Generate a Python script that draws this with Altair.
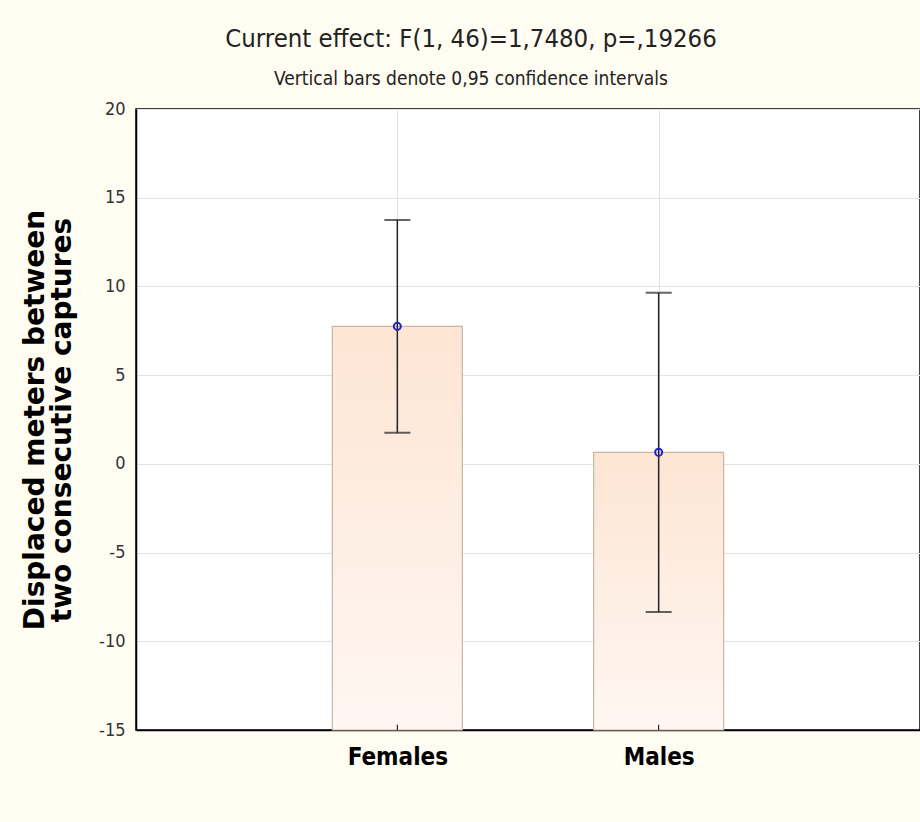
import altair as alt
import pandas as pd

groups = ["Females", "Males"]
means = [7.75, 0.65]
ci_low = [1.75, -8.35]
ci_high = [13.75, 9.65]
y_ticks = [-15, -10, -5, 0, 5, 10, 15, 20]
y_min, y_max = -15, 20

df = pd.DataFrame({"group": groups, "mean": means, "lo": ci_low, "hi": ci_high,
                   "base": [y_min] * len(groups), "tick_top": [y_min + 0.3] * len(groups)})

NARROW = "Liberation Sans Narrow, Arial Narrow, DejaVu Sans Condensed, sans-serif"

x = alt.X("group:N", sort=groups, title=None,
          scale=alt.Scale(type="point", padding=1),
          axis=alt.Axis(grid=True, gridColor="#e3e3e3", ticks=False, labelAngle=0,
                        labelFont=NARROW, labelFontSize=24, labelFontWeight="bold",
                        labelColor="#000", labelPadding=15, domainColor="#000",
                        domainWidth=1.5))
yscale = alt.Scale(domain=[y_min, y_max], nice=False, zero=False)

bars = alt.Chart(df).mark_bar(
    width=130,
    stroke="#c9b6a3", strokeWidth=1.2,
    color=alt.Gradient(gradient="linear", x1=0, x2=0, y1=0, y2=1,
                       stops=[alt.GradientStop(color="#fde5d3", offset=0),
                              alt.GradientStop(color="#fff7f3", offset=1)])
).encode(
    x=x,
    y=alt.Y("mean:Q", scale=yscale,
            title=["Displaced meters between", "two consecutive captures"],
            axis=alt.Axis(values=y_ticks, grid=True, gridColor="#e3e3e3", ticks=False,
                          labelExpr="'' + datum.value",
                          labelFont=NARROW, labelFontSize=18, labelColor="#333",
                          labelPadding=11, domainColor="#000", domainWidth=1.5,
                          titleFont="DejaVu Sans, sans-serif",
                          titleFontSize=28, titleFontWeight="bold", titleColor="#000",
                          titleLineHeight=27, titlePadding=22)),
    y2="base:Q",
)

xticks = alt.Chart(df).mark_rule(color="#000", strokeWidth=1).encode(
    x=alt.X("group:N", sort=groups), y=alt.Y("base:Q", scale=yscale), y2="tick_top:Q")

err = alt.Chart(df).mark_rule(color="#222", strokeWidth=1.5).encode(
    x=alt.X("group:N", sort=groups), y=alt.Y("lo:Q", scale=yscale), y2="hi:Q")

cap_lo = alt.Chart(df).mark_tick(color="#222", size=26, thickness=2, orient="horizontal").encode(
    x=alt.X("group:N", sort=groups), y=alt.Y("lo:Q", scale=yscale))
cap_hi = alt.Chart(df).mark_tick(color="#222", size=26, thickness=2, orient="horizontal").encode(
    x=alt.X("group:N", sort=groups), y=alt.Y("hi:Q", scale=yscale))

pts = alt.Chart(df).mark_point(shape="circle", filled=False, color="#2323c8",
                               size=50, strokeWidth=2, opacity=1).encode(
    x=alt.X("group:N", sort=groups), y=alt.Y("mean:Q", scale=yscale))

chart = alt.layer(bars, xticks, err, cap_lo, cap_hi, pts).properties(
    width=784, height=621,
    padding={"left": 136, "top": 109, "right": 0, "bottom": 92},
    autosize=alt.AutoSizeParams(type="none"),
    background="#fffcf1",
    title=alt.TitleParams(
        text="Current effect: F(1, 46)=1,7480, p=,19266",
        subtitle="Vertical bars denote 0,95 confidence intervals",
        font=NARROW, fontSize=25.5, fontWeight="normal", color="#222",
        subtitleFont=NARROW, subtitleFontSize=19, subtitleColor="#222",
        subtitlePadding=18, anchor="middle", dx=-57, offset=11),
).configure_view(fill="#ffffff", stroke="#000", strokeWidth=1.5)

chart.save("out.html", embed_options={"renderer": "svg", "actions": False})
